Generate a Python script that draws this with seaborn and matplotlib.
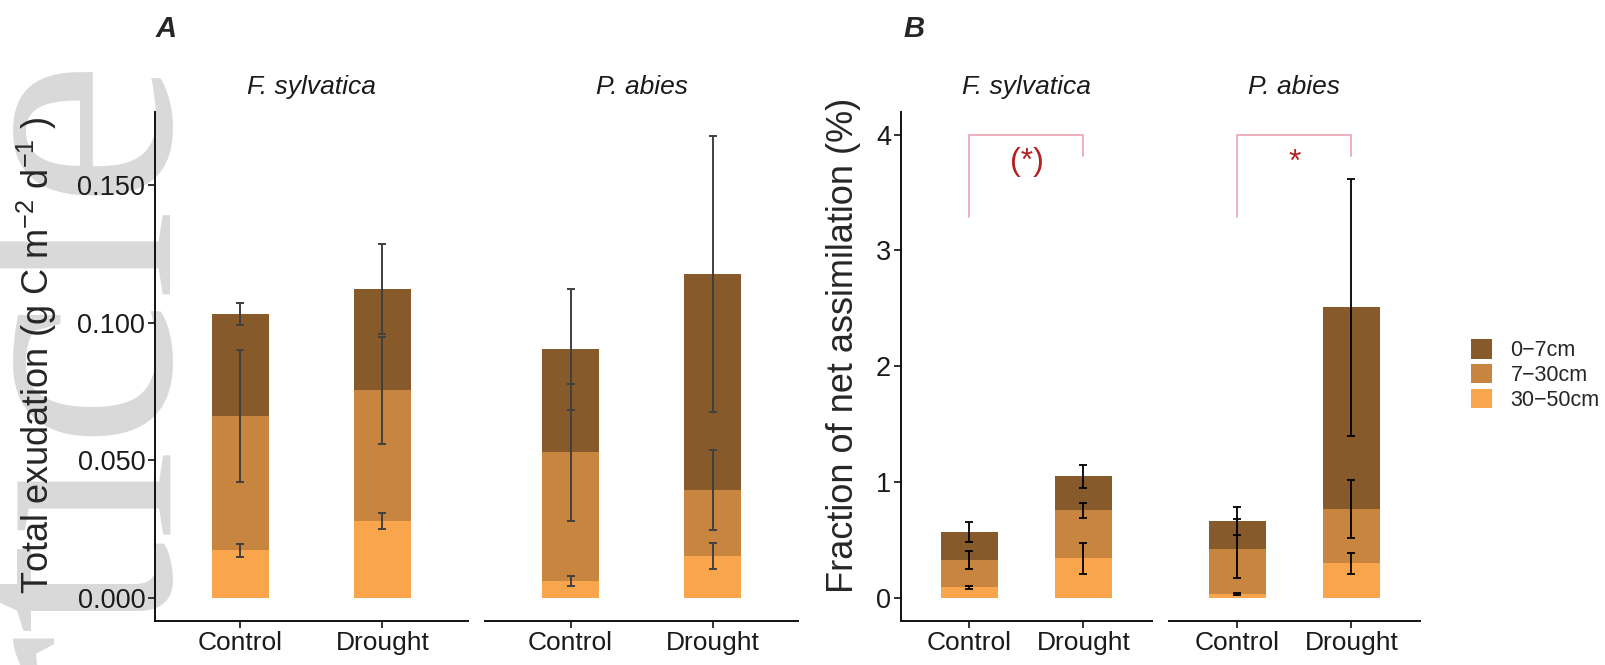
import numpy as np
import pandas as pd
import matplotlib
matplotlib.use("Agg")
import matplotlib.pyplot as plt
import seaborn as sns
from matplotlib.patches import Patch

# categories
treatments = ["Control", "Drought"]
species = ["F. sylvatica", "P. abies"]
layers = ["0\u22127cm", "7\u221230cm", "30\u221250cm"]
layer_colors = ["#875A2B", "#C8853F", "#F9A54C"]

# A: total exudation (g C m-2 d-1) per depth layer, [Control, Drought]
exu_fs_0_7 = [0.0371, 0.0368]
exu_fs_7_30 = [0.0488, 0.0476]
exu_fs_30_50 = [0.0173, 0.0279]
exu_pa_0_7 = [0.0374, 0.0785]
exu_pa_7_30 = [0.0469, 0.0240]
exu_pa_30_50 = [0.0061, 0.0152]
# standard errors, rows = layers (0-7, 7-30, 30-50)
exu_fs_se = [[0.0039, 0.0164], [0.0240, 0.0194], [0.0024, 0.0030]]
exu_pa_se = [[0.0220, 0.0503], [0.0249, 0.0144], [0.0017, 0.0046]]

# B: fraction of net assimilation (%) per depth layer, [Control, Drought]
frac_fs_0_7 = [0.241, 0.294]
frac_fs_7_30 = [0.235, 0.414]
frac_fs_30_50 = [0.090, 0.343]
frac_pa_0_7 = [0.241, 1.740]
frac_pa_7_30 = [0.390, 0.467]
frac_pa_30_50 = [0.032, 0.300]
frac_fs_se = [[0.087, 0.100], [0.078, 0.064], [0.014, 0.133]]
frac_pa_se = [[0.124, 1.110], [0.255, 0.248], [0.006, 0.090]]

# significance brackets in panel B
sig_labels = ["(*)", "*"]
bracket_top = 3.997
bracket_left_end = 3.286
bracket_right_end = 3.818
sig_text_y = 3.69


def long_table(per_species):
    rows = []
    for sp, (l07, l730, l3050, se) in zip(species, per_species):
        for i, t in enumerate(treatments):
            low = l3050[i]
            mid = low + l730[i]
            top = mid + l07[i]
            for k, (lay, cum) in enumerate(zip(layers, [top, mid, low])):
                rows.append(dict(species=sp, treatment=t, layer=lay,
                                 cum=cum, se=se[k][i]))
    return pd.DataFrame(rows)


exu = long_table([(exu_fs_0_7, exu_fs_7_30, exu_fs_30_50, exu_fs_se),
                  (exu_pa_0_7, exu_pa_7_30, exu_pa_30_50, exu_pa_se)])
frac = long_table([(frac_fs_0_7, frac_fs_7_30, frac_fs_30_50, frac_fs_se),
                   (frac_pa_0_7, frac_pa_7_30, frac_pa_30_50, frac_pa_se)])

sns.set_style("white")
plt.rcParams["font.family"] = ["Liberation Sans", "DejaVu Sans"]
plt.rcParams["mathtext.fontset"] = "custom"
plt.rcParams["mathtext.rm"] = "Liberation Sans"
plt.rcParams["mathtext.it"] = "Liberation Sans:italic"

W, H = 1606, 665
fig = plt.figure(figsize=(W / 100, H / 100), dpi=100)


def rect(x0, x1, y0=112, y1=621):
    return [x0 / W, 1 - y1 / H, (x1 - x0) / W, (y1 - y0) / H]


def draw_panel(axes, df, width, err_color, err_lw, ylim, yticks, yticklabels):
    for j, (ax, sp) in enumerate(zip(axes, species)):
        sub = df[df.species == sp]
        # tallest cumulative bar first, then the lower layers on top of it
        for lay, col in zip(layers, layer_colors):
            sns.barplot(data=sub[sub.layer == lay], x="treatment", y="cum",
                        order=treatments, color=col, width=width,
                        saturation=1, errorbar=None, linewidth=0, ax=ax)
        xpos = sub.treatment.map({t: i for i, t in enumerate(treatments)})
        ax.errorbar(xpos, sub.cum, yerr=sub.se, fmt="none", ecolor=err_color,
                    elinewidth=err_lw, capsize=2.6, capthick=err_lw, zorder=4)
        ax.set_facecolor("none")
        ax.set_xlim(-0.6, 1.6)
        ax.set_ylim(ylim)
        ax.set_xlabel("")
        ax.set_ylabel("")
        ax.set_yticks(yticks)
        ax.set_yticklabels(yticklabels)
        sns.despine(ax=ax)
        for s in ["left", "bottom"]:
            ax.spines[s].set_linewidth(1.4)
            ax.spines[s].set_color("#111111")
        ax.tick_params(axis="both", length=5, width=1.4, color="#333333",
                       labelsize=19, labelcolor="#1A1A1A", pad=2.2,
                       bottom=True, left=True)
        ax.tick_params(axis="y", labelsize=19.5)
        if j == 1:
            ax.spines["left"].set_visible(False)
            ax.tick_params(left=False, labelleft=False)


axA = [fig.add_axes(rect(155.3, 467.7)), fig.add_axes(rect(485.3, 797.7))]
axB = [fig.add_axes(rect(901.1, 1151.9)), fig.add_axes(rect(1169.0, 1419.8))]

draw_panel(axA, exu, 0.4, "#404040", 1.4, (-0.00844, 0.17665),
           [0, 0.05, 0.10, 0.15], ["0.000", "0.050", "0.100", "0.150"])
draw_panel(axB, frac, 0.5, "black", 1.3, (-0.2, 4.195),
           [0, 1, 2, 3, 4], ["0", "1", "2", "3", "4"])

for ax, lab in zip(axB, sig_labels):
    ax.plot([0, 0, 1, 1],
            [bracket_left_end, bracket_top, bracket_top, bracket_right_end],
            color="#EEA9B8", lw=1.3, clip_on=False, zorder=5)
    ax.text(0.5, sig_text_y, lab, ha="center", va="baseline",
            color="#B22222", fontsize=23)

# strip labels
for ax, sp in zip(axA + axB, species * 2):
    pos = ax.get_position()
    fig.text(pos.x0 + pos.width / 2, 1 - 94 / H, sp, ha="center",
             va="baseline", fontsize=19, style="italic", color="#1A1A1A")

# panel letters
fig.text(156 / W, 1 - 37 / H, "A", fontsize=21, fontweight="bold",
         style="italic", va="baseline")
fig.text(903 / W, 1 - 37 / H, "B", fontsize=21, fontweight="bold",
         style="italic", va="baseline")

# axis titles
fig.text(37 / W, 1 - 355 / H, r"Total exudation (g C m$^{-2}$ d$^{-1}$ )",
         rotation=90, ha="center", va="center", fontsize=26)
fig.text(844 / W, 1 - 345 / H, "Fraction of net assimilation (%)",
         rotation=90, ha="center", va="center", fontsize=26)

# legend
handles = [Patch(facecolor=c, edgecolor="none", label=l)
           for c, l in zip(layer_colors, layers)]
fig.legend(handles=handles, loc="center left",
           bbox_to_anchor=(1470.7 / W, 1 - 375 / H), frameon=False,
           fontsize=15.5, handlelength=1.0, handleheight=1.0,
           handletextpad=0.85, labelspacing=0.12, borderpad=0,
           borderaxespad=0)

# journal watermark behind the left panel
fig.text(168 / W, 1 - 56 / H, "Article", rotation=90, rotation_mode="anchor",
         ha="right", va="baseline", fontsize=240, color="#D9D9D9",
         family="Liberation Serif", zorder=-5)

fig.savefig("out.png", dpi=100)
